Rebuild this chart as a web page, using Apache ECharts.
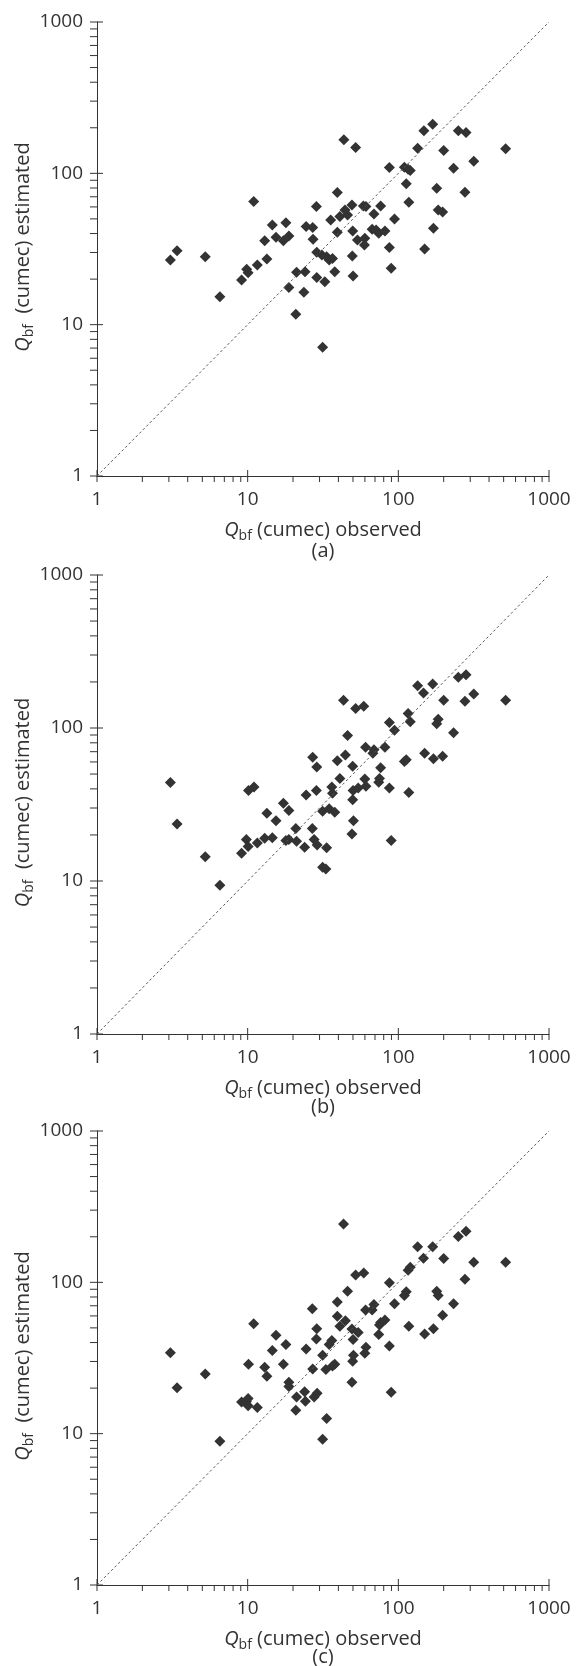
<!DOCTYPE html>
<html>
<head>
<meta charset="utf-8">
<script src="https://cdn.jsdelivr.net/npm/echarts@6/dist/echarts.min.js"></script>
<style>
html,body{margin:0;padding:0;background:#fff;}
#chart{width:576px;height:1666px;}
</style>
</head>
<body>
<div id="chart"></div>
<script>
// ---- Data ----
const obsA = [3.07,3.40,5.23,6.54,9.11,9.85,10.07,10.96,11.59,12.97,13.41,14.58,15.42,17.26,17.94,18.77,18.77,20.88,21.12,23.61,24.03,24.43,27.02,27.17,28.58,28.74,28.74,31.09,32.51,31.43,33.42,34.77,36.57,37.84,35.57,39.34,39.34,40.91,43.52,44.26,46.02,49.23,49.78,49.50,50.06,52.06,53.54,58.60,59.93,60.94,59.59,68.88,66.99,71.25,74.13,76.26,81.50,87.20,87.20,89.69,94.35,109.7,112.9,116.1,120.0,117.4,134.3,147.7,149.4,169.1,171.0,179.8,183.8,196.7,200.0,232.6,250.1,276.7,281.4,316.6,515.6];
const estA = [26.7,30.8,28.1,15.3,19.7,23.2,22.0,65.1,24.8,35.9,27.2,45.6,37.8,35.9,47.2,38.6,17.6,11.7,22.2,16.4,22.4,44.5,43.8,36.7,60.3,30.1,20.5,28.9,19.2,7.1,28.1,26.7,27.4,22.4,49.2,74.6,40.8,51.8,166.5,57.3,53.1,61.8,41.6,28.4,21.0,148.2,36.3,60.9,37.2,60.3,33.6,53.9,42.7,42.3,40.2,60.9,41.6,109.2,32.3,23.6,50.0,109.8,85.2,106.5,104.4,64.4,146.6,191.0,31.6,211.4,43.4,79.7,57.3,55.6,141.6,108.1,191.0,75.0,186.2,120.3,145.2];

const obsB = [3.07,3.40,5.23,6.54,9.11,9.80,10.07,10.13,11.02,11.59,12.97,13.41,14.58,15.42,17.26,17.94,18.77,18.77,20.88,21.12,23.88,24.43,26.87,27.02,27.62,28.74,28.58,28.90,31.43,33.05,33.42,31.43,34.77,36.17,37.84,36.57,39.34,40.91,43.28,44.50,46.02,49.23,49.78,50.34,49.78,50.06,52.06,54.14,58.93,59.93,60.60,60.94,67.75,68.88,74.13,74.96,76.26,81.50,87.20,87.20,89.69,94.35,109.7,112.9,116.1,120.0,117.4,134.3,146.9,149.4,169.1,171.0,179.8,183.8,196.7,200.0,232.6,250.1,276.7,281.4,316.6,515.6];
const estB = [44.0,23.6,14.4,9.37,15.2,18.7,16.8,39.0,41.2,17.7,19.0,27.7,19.2,24.8,32.2,18.4,28.9,18.7,22.0,18.2,16.6,36.5,22.0,64.4,18.7,55.6,39.0,17.2,12.3,12.0,16.5,28.6,29.7,41.2,28.1,37.5,61.2,46.7,152.1,66.5,89.2,20.3,34.0,24.8,56.2,39.0,134.2,40.5,138.6,46.4,74.9,41.6,68.3,72.1,44.2,46.7,55.0,74.9,108.5,40.5,18.4,96.8,60.3,61.9,124.4,109.7,37.9,189.1,169.5,68.3,194.2,63.0,106.7,114.0,65.4,152.1,93.2,214.3,149.6,222.6,166.8,152.1];

const obsC = [3.07,3.40,5.23,6.54,9.11,9.80,10.07,10.07,10.13,10.96,11.59,12.97,13.41,14.58,15.42,17.26,17.94,18.77,18.77,20.88,21.12,23.88,24.15,24.43,26.87,27.02,27.62,28.74,28.58,28.90,31.43,31.43,33.05,33.42,34.77,36.17,37.84,36.57,39.34,39.34,40.91,43.28,44.50,46.02,49.23,49.78,50.34,49.23,50.06,52.06,54.14,58.93,59.93,60.60,60.94,66.99,68.88,74.13,74.96,76.26,81.50,87.20,87.20,89.69,94.35,109.7,112.9,116.1,120.0,117.4,134.3,146.9,149.4,169.1,171.0,179.8,183.8,196.7,200.0,232.6,250.1,276.7,281.4,316.6,515.6];
const estC = [34.3,20.1,24.8,8.92,16.2,16.3,17.1,15.3,28.8,53.3,14.9,27.5,24.0,35.5,44.7,28.8,38.9,21.9,20.5,14.3,17.5,18.9,16.4,36.3,66.8,26.8,17.5,49.3,42.3,18.5,33.0,9.17,26.5,12.6,38.9,41.2,28.8,28.0,74.1,59.8,51.3,243.2,55.7,87.4,21.9,30.1,33.0,49.1,41.9,112.0,46.7,115.1,34.0,65.7,37.3,65.7,71.3,45.2,52.2,54.2,56.3,99.2,37.9,18.8,72.1,81.9,86.5,120.3,125.7,51.3,172.0,144.3,45.5,172.0,49.3,87.4,81.9,60.5,143.5,72.1,200.6,104.9,217.9,135.8,135.8];

const panelLabels = ['(a)', '(b)', '(c)'];
const tickLabels = ['1', '10', '100', '1000'];
const majorTicks = [1, 10, 100, 1000];
const minorTicks = [2,3,4,5,6,7,8,9,20,30,40,50,60,70,80,90,200,300,400,500,600,700,800,900];
const lineEnds = [1, 1000];
const xTitle = '{q|Q}{s|bf} (cumec) observed';
const yTitle = '{q|Q}{s|bf}  (cumec) estimated';

// ---- Layout ----
const grids = [
  {left: 97, top: 22, width: 452, height: 454},
  {left: 97, top: 575, width: 452, height: 459},
  {left: 97, top: 1131, width: 452, height: 454}
];
const panelLabelY = [551, 1107, 1657];
const FONT = '"Open Sans", "Noto Sans", sans-serif';
const TXT = '#333';
const TITLE_SIZE = 20;

const rich = {
  q: {fontStyle: 'italic', fontSize: TITLE_SIZE, fontFamily: FONT, color: TXT, lineHeight: 26, verticalAlign: 'middle'},
  s: {fontSize: 14, fontFamily: FONT, color: TXT, lineHeight: 12, verticalAlign: 'bottom'}
};
const richG = {
  q: {fontStyle: 'italic', fontSize: TITLE_SIZE, fontFamily: FONT, fill: TXT, lineHeight: 26, verticalAlign: 'middle'},
  s: {fontSize: 14, fontFamily: FONT, fill: TXT, lineHeight: 12, verticalAlign: 'bottom'}
};

function fmt(v) {
  const idx = majorTicks.indexOf(Math.round(v));
  return idx >= 0 ? tickLabels[idx] : '';
}

const pairs = [[obsA, estA], [obsB, estB], [obsC, estC]];

const xAxes = [], yAxes = [], series = [], graphics = [];

grids.forEach((g, i) => {
  xAxes.push({
    type: 'log', logBase: 10, min: 1, max: 1000, gridIndex: i,
    axisLine: {show: true, lineStyle: {color: TXT, width: 1}},
    axisTick: {show: false},
    splitLine: {show: false},
    axisLabel: {fontSize: 19, fontFamily: FONT, color: TXT, margin: 14, formatter: fmt},
    name: xTitle, nameLocation: 'middle', nameGap: 41,
    nameTextStyle: {fontSize: TITLE_SIZE, fontFamily: FONT, color: TXT, rich: rich}
  });
  yAxes.push({
    type: 'log', logBase: 10, min: 1, max: 1000, gridIndex: i,
    axisLine: {show: true, lineStyle: {color: TXT, width: 1}},
    axisTick: {show: false},
    splitLine: {show: false},
    axisLabel: {fontSize: 19, fontFamily: FONT, color: TXT, margin: 14, formatter: fmt}
  });

  // 1:1 line
  series.push({
    type: 'line', xAxisIndex: i, yAxisIndex: i,
    data: [[lineEnds[0], lineEnds[0]], [lineEnds[1], lineEnds[1]]],
    symbol: 'none', silent: true, animation: false,
    lineStyle: {color: '#555', width: 1, type: [2.5, 2.5]}
  });

  // scatter points
  const [xs, ys] = pairs[i];
  series.push({
    type: 'scatter', xAxisIndex: i, yAxisIndex: i,
    data: xs.map((x, k) => [x, ys[k]]),
    symbol: 'diamond', symbolSize: 11,
    itemStyle: {color: '#333', opacity: 1},
    animation: false
  });

  // axis ticks (major crossing, minor outward)
  const tickData = [];
  majorTicks.forEach(v => { tickData.push([v, v, 1, 0]); tickData.push([v, v, 1, 1]); });
  minorTicks.forEach(v => { tickData.push([v, v, 0, 0]); tickData.push([v, v, 0, 1]); });
  series.push({
    type: 'custom', xAxisIndex: i, yAxisIndex: i, clip: false, silent: true, animation: false,
    data: tickData,
    encode: {x: 0, y: 1},
    renderItem: function (params, api) {
      const v = api.value(0), major = api.value(2), ax = api.value(3);
      let shape;
      if (ax === 0) {
        const p = api.coord([v, 1]);
        shape = {x1: p[0], y1: p[1] - (major ? 6 : 0), x2: p[0], y2: p[1] + 6};
      } else {
        const p = api.coord([1, v]);
        shape = {x1: p[0] - 7, y1: p[1], x2: p[0] + (major ? 6 : 0), y2: p[1]};
      }
      return {type: 'line', shape: shape, style: {stroke: TXT, lineWidth: 1}};
    }
  });

  // y-axis title (rotated)
  graphics.push({
    type: 'text', x: 23, y: g.top + g.height / 2 - 2, rotation: Math.PI / 2,
    style: {text: yTitle, rich: richG, fontSize: TITLE_SIZE, fontFamily: FONT, fill: TXT, textAlign: 'center', textVerticalAlign: 'middle'}
  });

  graphics.push({
    type: 'text', x: g.left + g.width / 2, y: panelLabelY[i],
    style: {text: panelLabels[i], fontSize: TITLE_SIZE, fontFamily: FONT, fill: TXT, textAlign: 'center', textVerticalAlign: 'middle'}
  });
});

const chart = echarts.init(document.getElementById('chart'), null, {renderer: 'canvas'});
chart.setOption({
  backgroundColor: '#fff',
  animation: false,
  grid: grids,
  xAxis: xAxes,
  yAxis: yAxes,
  series: series,
  graphic: graphics
});
</script>
</body>
</html>
